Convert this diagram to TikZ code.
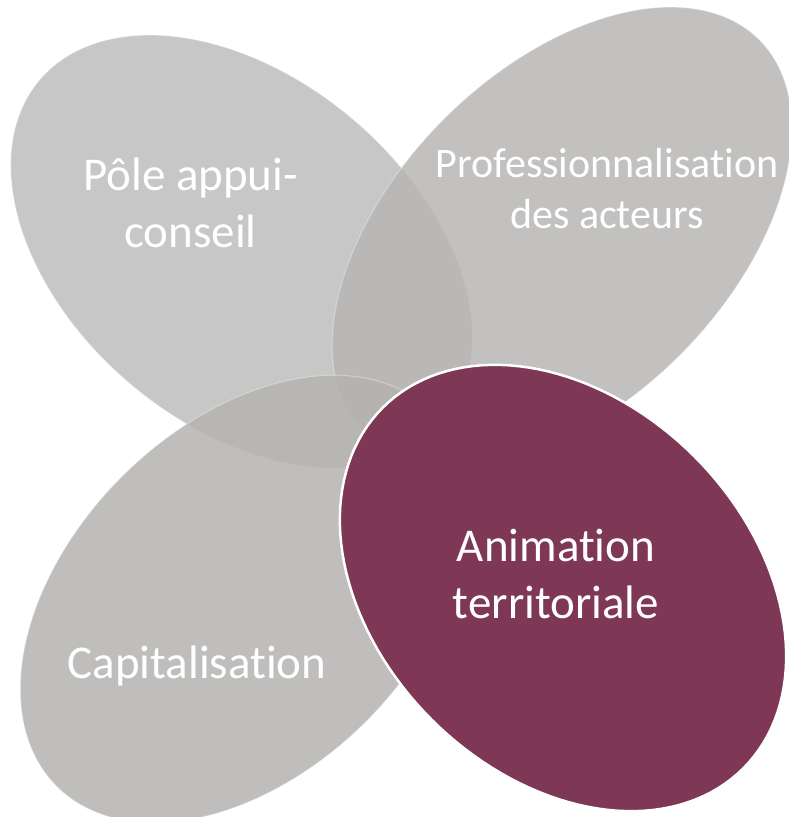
\documentclass[tikz,border=0pt]{standalone}
\usepackage{fontspec}
\setmainfont{Carlito}[Ligatures={NoCommon}]
\definecolor{grayA}{RGB}{190,189,190}
\definecolor{grayB}{RGB}{183,182,180}
\definecolor{grayC}{RGB}{180,179,176}
\definecolor{plum}{RGB}{126,56,85}
% rotated ellipse in pixel coordinates: #1 cx, #2 cy, #3 a, #4 b, #5 angle (clockwise, y down)
\newcommand{\petalpath}[5]{plot[domain=0:360, samples=145]
  ({#1 + #3*cos(\x)*cos(#5) - #4*sin(\x)*sin(#5)},
   {#2 + #3*cos(\x)*sin(#5) + #4*sin(\x)*cos(#5)}) -- cycle}
\begin{document}
\begin{tikzpicture}[x=1pt,y=-1pt,
  petal/.style={fill opacity=0.85, draw=white, draw opacity=0.3, line width=1.2pt},
  hub/.style={fill=plum, draw=white, line width=2.5pt},
  lbl/.style={text=white, align=center, inner sep=0pt, anchor=base},
  big/.style={font=\fontsize{47}{57}\selectfont},
  small/.style={font=\fontsize{42}{51.5}\selectfont}]
\useasboundingbox (0,0) rectangle (789,817);
\clip (0,0) rectangle (789,817);
% A : top-left
\path[petal, fill=grayA] \petalpath{241.5}{251.5}{265}{173}{40.4};
% B : top-right
\path[petal, fill=grayB] \petalpath{562}{237}{279}{167}{-45};
% C : bottom-left
\path[petal, fill=grayC] \petalpath{244}{599}{265}{173}{-45};
% D : bottom-right (highlighted)
\path[hub] \petalpath{563}{588}{255}{186}{45};
\node[lbl, big] (pole) at (190.5,247) {Pôle appui-\\conseil};
\node[lbl, small] (pro) at (607,228.6) {Professionnalisation\\des acteurs};
\node[lbl, big] (cap) at (197,678) {Capitalisation};
\node[lbl, big] (anim) at (556,618) {Animation\\territoriale};
\end{tikzpicture}
\end{document}
